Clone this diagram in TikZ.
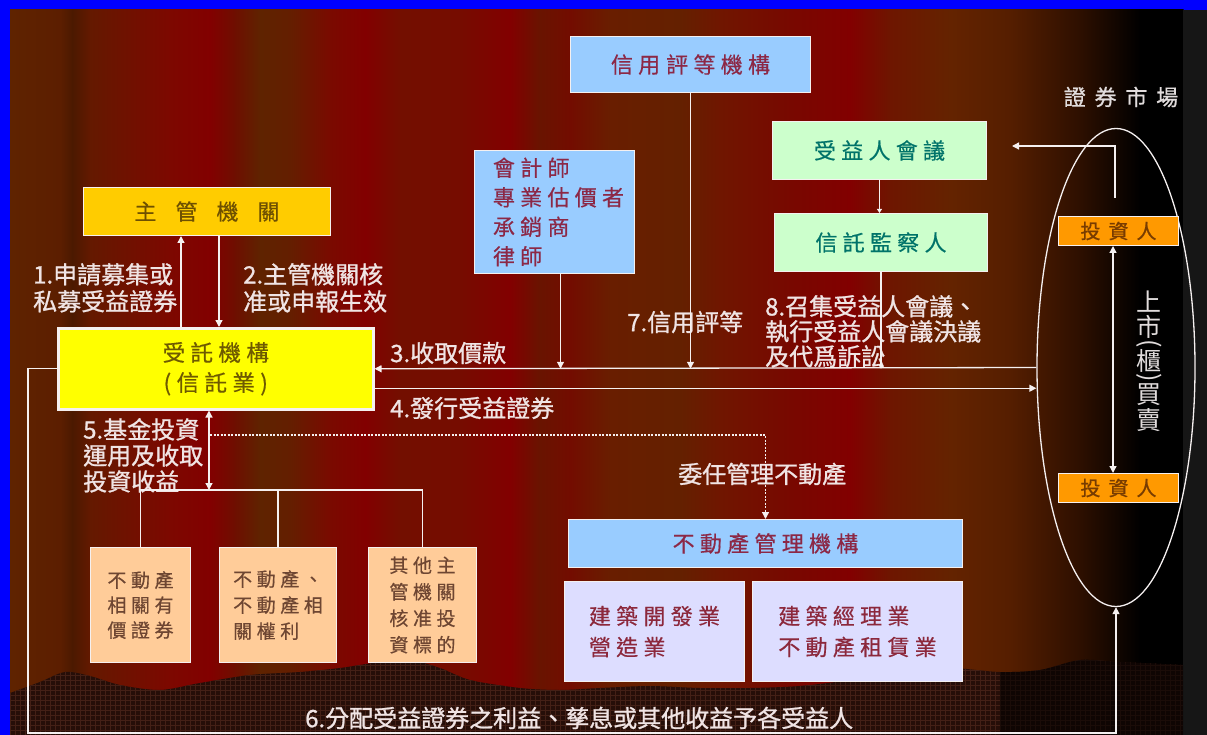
\documentclass[tikz,border=0pt]{standalone}
\usepackage{fontspec}
\usepackage{graphicx}
\usetikzlibrary{arrows.meta,shapes.geometric}
\newfontfamily\lblfont[FakeBold=1]{Noto Sans CJK TC}
\newfontfamily\boxfont[LetterSpace=24,FakeBold=0.5]{Noto Sans CJK TC}
\newfontfamily\widefont[LetterSpace=40,FakeBold=0.8]{Noto Sans CJK TC}
\newfontfamily\vtfont{Noto Sans CJK TC}
\newcommand\vslot[2]{\hbox to 32pt{\hss\vbox to #1{\vss\hbox{#2}\vss}\hss}}
% background stripe colours
\definecolor{s0}{RGB}{95,35,0}
\definecolor{s1}{RGB}{92,30,0}
\definecolor{s2}{RGB}{75,25,0}
\definecolor{s3}{RGB}{100,25,0}
\definecolor{s4}{RGB}{125,8,0}
\definecolor{s5}{RGB}{130,0,0}
\definecolor{s6}{RGB}{110,15,0}
\definecolor{s7}{RGB}{95,35,0}
\definecolor{s8}{RGB}{100,30,0}
\definecolor{s9}{RGB}{122,10,0}
\definecolor{s10}{RGB}{130,0,0}
\definecolor{s11}{RGB}{115,15,0}
\definecolor{s12}{RGB}{118,12,0}
\definecolor{s13}{RGB}{130,0,0}
\definecolor{s14}{RGB}{105,20,0}
\definecolor{s15}{RGB}{115,12,0}
\definecolor{s16}{RGB}{105,30,0}
\definecolor{s17}{RGB}{100,32,0}
\definecolor{s18}{RGB}{112,22,0}
\definecolor{s19}{RGB}{120,8,0}
\definecolor{s20}{RGB}{130,0,0}
\definecolor{s21}{RGB}{110,22,0}
\definecolor{s22}{RGB}{100,35,0}
\definecolor{s23}{RGB}{85,30,0}
\definecolor{s24}{RGB}{45,15,0}
\definecolor{s25}{RGB}{0,0,0}
\definecolor{s26}{RGB}{0,0,0}
\definecolor{frameblue}{RGB}{0,0,255}
\definecolor{sidegray}{RGB}{22,22,22}
\definecolor{groundc}{RGB}{38,14,8}
\definecolor{groundgrid}{RGB}{68,32,22}
% element colours
\definecolor{zgfill}{RGB}{255,204,0}
\definecolor{zgtext}{RGB}{110,80,0}
\definecolor{trfill}{RGB}{255,255,0}
\definecolor{trtext}{RGB}{110,90,0}
\definecolor{bluefill}{RGB}{153,204,255}
\definecolor{bluetext}{RGB}{140,40,70}
\definecolor{greenfill}{RGB}{204,255,204}
\definecolor{greentext}{RGB}{0,115,105}
\definecolor{orangefill}{RGB}{255,153,0}
\definecolor{orangetext}{RGB}{120,60,0}
\definecolor{peachfill}{RGB}{255,204,153}
\definecolor{peachtext}{RGB}{110,70,50}
\definecolor{lavfill}{RGB}{221,221,255}
\definecolor{lavtext}{RGB}{140,40,60}
\definecolor{linec}{RGB}{245,240,240}
\definecolor{lblc}{RGB}{240,228,228}
\definecolor{mktext}{RGB}{225,220,220}
\begin{document}
\begin{tikzpicture}[x=1pt,y=-1pt,
  box/.style={draw=linec, line width=1pt, anchor=north west, inner sep=0pt, align=center},
  lbl/.style={text=lblc, font=\lblfont\fontsize{24pt}{27pt}\selectfont, align=left, inner sep=0pt},
  conn/.style={draw=linec, line width=1.3pt},
  arr/.style={conn, -{Triangle[width=7pt,length=7pt]}},
  darr/.style={conn, {Triangle[width=7pt,length=7pt]}-{Triangle[width=7pt,length=7pt]}},
  sarr/.style={conn, -{Triangle[width=5pt,length=4pt]}}]
\useasboundingbox (0,0) rectangle (1207,735);
% ---------- background ----------
\fill[frameblue] (0,0) rectangle (1207,735);
\foreach \xa/\xb/\ca/\cb in {10/60/s0/s1,60/72/s1/s2,72/90/s2/s3,90/170/s3/s4,170/210/s4/s5,
  210/235/s5/s6,235/260/s6/s7,260/290/s7/s8,290/330/s8/s9,330/365/s9/s10,365/400/s10/s11,
  400/460/s11/s12,460/510/s12/s13,510/540/s13/s14,540/570/s14/s15,570/610/s15/s16,
  610/680/s16/s17,680/720/s17/s18,720/790/s18/s19,790/850/s19/s20,850/890/s20/s21,
  890/950/s21/s22,950/1010/s22/s23,1010/1080/s23/s24,1080/1140/s24/s25,1140/1183/s25/s26}
  {\shade[left color=\ca, right color=\cb] (\xa,10) rectangle ({\xb+0.6},735);}
\fill[sidegray] (1183,10) rectangle (1207,735);
% dark wavy ground
\begin{scope}
\clip (10,735) -- plot[smooth] coordinates {(10,693) (40,682) (65,672) (90,676) (120,685)
  (160,690) (200,683) (250,675) (300,672) (340,668) (380,662) (410,660) (440,668) (470,680)
  (520,688) (560,690) (600,688) (650,686) (700,688) (750,688) (800,686) (850,680) (900,672)
  (950,668) (1000,672) (1040,670) (1080,660) (1120,662) (1183,665)} -- (1183,735) -- cycle;
\fill[groundc] (10,640) rectangle (1183,735);
\draw[groundgrid, line width=0.35pt, step=5pt] (10,735) grid (1183,640);
\shade[left color=groundc!0!black, right color=black, opacity=0.6] (1000,640) rectangle (1183,735);
\end{scope}
% ---------- boxes ----------
\node[box, fill=zgfill, minimum width=247pt, minimum height=48pt,
  text=zgtext, font=\boxfont\fontsize{22pt}{26pt}\selectfont] (zg) at (83,187)
  {主\hspace{19pt}管\hspace{19pt}機\hspace{19pt}關};
\node[box, fill=trfill, line width=2.5pt, minimum width=315pt, minimum height=81pt,
  text=trtext, font=\boxfont\fontsize{22.5pt}{30pt}\selectfont] (tr) at (57,327)
  {受託機構\\(信託業)};
\node[box, fill=bluefill, minimum width=240pt, minimum height=56pt,
  text=bluetext, font=\boxfont\fontsize{22pt}{26pt}\selectfont] (xy) at (570,36)
  {信用\hspace{6pt}評等機構};
\node[box, fill=bluefill, minimum width=160pt, minimum height=123pt, align=left,
  text=bluetext, font=\boxfont\fontsize{22pt}{29.5pt}\selectfont] (kj) at (474,150)
  {\hspace*{8pt}會計師\\\hspace*{8pt}專業估價者\\\hspace*{8pt}承銷商\\\hspace*{8pt}律師};
\node[box, fill=greenfill, minimum width=214pt, minimum height=58pt,
  text=greentext, font=\boxfont\fontsize{22pt}{26pt}\selectfont] (sy) at (772,121) {受益人會議};
\node[box, fill=greenfill, minimum width=213pt, minimum height=58pt,
  text=greentext, font=\boxfont\fontsize{22pt}{26pt}\selectfont] (jc) at (774,213) {信託監察人};
\node[box, fill=peachfill, minimum width=100pt, minimum height=115pt, align=left,
  text=peachtext, font=\boxfont\fontsize{19pt}{25pt}\selectfont] (b1) at (90,547)
  {不動產\\相關有\\價證券};
\node[box, fill=peachfill, minimum width=117pt, minimum height=115pt, align=left,
  text=peachtext, font=\boxfont\fontsize{19pt}{26pt}\selectfont] (b2) at (219,547)
  {不動產、\\不動產相\\關權利};
\node[box, fill=peachfill, minimum width=108pt, minimum height=115pt, align=left,
  text=peachtext, font=\boxfont\fontsize{19pt}{26.5pt}\selectfont] (b3) at (368,547)
  {其他主\\管機關\\核准投\\資標的};
\node[box, fill=bluefill, minimum width=394pt, minimum height=48pt,
  text=bluetext, font=\boxfont\fontsize{22pt}{26pt}\selectfont] (pm) at (568,519) {不動產管理機構};
\node[box, fill=lavfill, minimum width=180pt, minimum height=100pt, align=left,
  text=lavtext, font=\boxfont\fontsize{22pt}{31pt}\selectfont] (la) at (564,581)
  {建築開發業\\營造業};
\node[box, fill=lavfill, minimum width=210pt, minimum height=100pt, align=left,
  text=lavtext, font=\boxfont\fontsize{22pt}{31pt}\selectfont] (lb) at (752,581)
  {建築經理業\\不動產租賃業};
% ---------- securities market ----------
\node[text=mktext, font=\widefont\fontsize{22pt}{24pt}\selectfont, inner sep=0pt] (mt) at (1121,97) {證券市場};
\node[draw=linec, line width=1.3pt, ellipse, minimum width=158pt, minimum height=478pt, inner sep=0pt] (mk) at (1116,367.5) {};
\node[box, fill=orangefill, minimum width=120pt, minimum height=29pt,
  text=orangetext, font=\widefont\fontsize{20pt}{24pt}\selectfont] (inv1) at (1058,216) {投資人};
\node[box, fill=orangefill, minimum width=120pt, minimum height=29pt,
  text=orangetext, font=\widefont\fontsize{20pt}{24pt}\selectfont] (inv2) at (1058,473) {投資人};
\node[text=mktext, font=\vtfont\fontsize{25pt}{25pt}\selectfont, inner sep=0pt] (ss) at (1149,361)
  {\vbox{\offinterlineskip\vslot{25pt}{上}\vslot{25pt}{市}\vslot{9pt}{\rotatebox{-90}{(}}\vslot{25pt}{櫃}\vslot{9pt}{\rotatebox{-90}{)}}\vslot{25pt}{買}\vslot{25pt}{賣}}};
% ---------- labels ----------
\node[lbl, anchor=north west] (t1) at (33,263) {1.申請募集或\\私募受益證券};
\node[lbl, anchor=north west] (t2) at (243,263) {2.主管機關核\\准或申報生效};
\node[lbl, anchor=west] (t3) at (390,353) {3.收取價款};
\node[lbl, anchor=west] (t4) at (390,408) {4.發行受益證券};
\node[lbl, anchor=north west, font=\lblfont\fontsize{24pt}{26pt}\selectfont] (t5) at (83,418) {5.基金投資\\運用及收取\\投資收益};
\node[lbl, anchor=west] (t6) at (305,718) {6.分配受益證券之利益、孳息或其他收益予各受益人};
\node[lbl, anchor=west] (t7) at (627,322) {7.信用評等};
\node[lbl, anchor=north west, font=\lblfont\fontsize{24pt}{25pt}\selectfont] (t8) at (765,295) {8.召集受益人會議、\\執行受益人會議決議\\及代爲訴訟};
\node[lbl, anchor=west] (t9) at (678,474) {委任管理不動產};
% ---------- connectors ----------
\coordinate (a1) at (181,0);
\coordinate (a2) at (219,0);
\draw[arr] (tr.north -| a1) -- (zg.south -| a1);
\draw[arr] (zg.south -| a2) -- (tr.north -| a2);
\draw[arr] (mk.west) -- (tr.east);
\coordinate (l4a) at ([yshift=-19.5pt]tr.east);
\draw[arr] (l4a) -- (l4a -| mk.west);
\coordinate (kjb) at ([xshift=6pt]kj.south);
\draw[arr] (kjb) -- (kjb |- tr.east);
\draw[arr] (xy.south) -- (xy.south |- tr.east);
\draw[sarr] (sy.south) -- (sy.south |- jc.north);
\draw[sarr] (jc.south) -- (jc.south |- tr.east);
\coordinate (ia) at (1115,198);
\coordinate (ib) at (1012,146);
\draw[arr] (ia) |- (ib);
\coordinate (ivx) at (1113,0);
\draw[darr] (inv1.south -| ivx) -- (inv2.north -| ivx);
\coordinate (bus) at (209,490);
\draw[darr] (tr.south -| bus) -- (bus);
\draw[conn] (b1.north) |- (b3.north |- bus) -- (b3.north);
\draw[conn] (b2.north) -- (b2.north |- bus);
\coordinate (dd) at (210,435);
\draw[conn, dash pattern=on 2pt off 1.5pt, -{Triangle[width=7pt,length=7pt]}] (dd) -| (pm.north);
\coordinate (c6) at (28,733);
\draw[arr] (tr.west) -| (c6) -| (mk.south);
\end{tikzpicture}
\end{document}
